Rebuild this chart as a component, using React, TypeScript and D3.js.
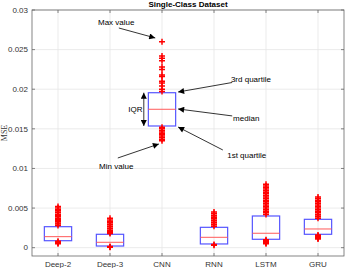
import React, { useEffect, useRef } from "react";
import * as d3 from "d3";

const categories = ["Deep-2", "Deep-3", "CNN", "RNN", "LSTM", "GRU"];
const q1 = [0.00088, 0.00021, 0.01536, 0.00047, 0.00106, 0.00169];
const medians = [0.00139, 0.00068, 0.01747, 0.00131, 0.00182, 0.00236];
const q3 = [0.00265, 0.00169, 0.01956, 0.00257, 0.004, 0.00358];
const outliers = [
  [0.0028, 0.003, 0.0031, 0.0033, 0.0034, 0.0036, 0.0037, 0.0039, 0.0041, 0.0042, 0.0044, 0.0045, 0.0047, 0.0048, 0.005, 0.0052, 0.0008, 0.0007, 0.0006, 0.0005],
  [0.0018, 0.0019, 0.002, 0.0022, 0.0024, 0.0026, 0.0027, 0.0029, 0.003, 0.0032, 0.0033, 0.0035, 0.0037, 0.00015, 0.0001, 0.00005],
  [0.026, 0.0242, 0.0239, 0.0236, 0.0228, 0.0225, 0.0218, 0.0216, 0.021, 0.0208, 0.0204, 0.02, 0.0197, 0.0152, 0.015, 0.0148, 0.0146, 0.0144, 0.0143, 0.0141, 0.0139, 0.0137, 0.0135],
  [0.0027, 0.0029, 0.003, 0.0032, 0.0034, 0.0035, 0.0037, 0.0038, 0.004, 0.0041, 0.0043, 0.0045, 0.0004, 0.0003],
  [0.0042, 0.0044, 0.0046, 0.0048, 0.005, 0.0052, 0.0054, 0.0056, 0.0058, 0.006, 0.0062, 0.0064, 0.0066, 0.0068, 0.007, 0.0072, 0.0074, 0.0076, 0.0078, 0.008, 0.001, 0.0009, 0.0008, 0.0007, 0.0006, 0.0005],
  [0.0037, 0.0039, 0.004, 0.0042, 0.0044, 0.0046, 0.0048, 0.005, 0.0052, 0.0054, 0.0056, 0.0058, 0.006, 0.0062, 0.0064, 0.0016, 0.0015, 0.0014, 0.0013, 0.0012, 0.0011],
];
const yTicks = [0, 0.005, 0.01, 0.015, 0.02, 0.025, 0.03];
const yTickLabels = ["0", "0.005", "0.01", "0.015", "0.02", "0.025", "0.03"];

// annotations in data units: text position, arrow start, arrow end
const notes = [
  { label: "Max value", tx: 2.12, ty: 0.0285, x1: 2.17, y1: 0.02773, x2: 2.87, y2: 0.02647 },
  { label: "3rd quartile", tx: 4.71, ty: 0.0213, x1: 4.35, y1: 0.02085, x2: 3.31, y2: 0.01965 },
  { label: "median", tx: 4.62, ty: 0.01637, x1: 4.35, y1: 0.01663, x2: 3.31, y2: 0.01751 },
  { label: "1st quartile", tx: 4.63, ty: 0.0117, x1: 4.17, y1: 0.01233, x2: 3.31, y2: 0.01523 },
  { label: "Min value", tx: 2.12, ty: 0.01031, x1: 2.15, y1: 0.01132, x2: 2.94, y2: 0.01309 },
];

const App = () => {
  const svgRef = useRef<SVGSVGElement>(null);

  useEffect(() => {
    const W = 345;
    const H = 268;
    const margin = { top: 10, right: 1, bottom: 12, left: 32 };
    const svg = d3.select(svgRef.current).attr("width", W).attr("height", H);
    svg.selectAll("*").remove();

    const x = d3.scaleLinear().domain([0.5, 6.5]).range([margin.left, W - margin.right]);
    const y = d3.scaleLinear().domain([-0.00105, 0.03]).range([H - margin.bottom, margin.top]);
    const font = "Liberation Sans, Arial, sans-serif";

    const defs = svg.append("defs");
    defs
      .append("marker")
      .attr("id", "ah")
      .attr("viewBox", "0 0 10 10")
      .attr("refX", 10)
      .attr("refY", 5)
      .attr("markerWidth", 7)
      .attr("markerHeight", 6)
      .attr("markerUnits", "userSpaceOnUse")
      .attr("orient", "auto-start-reverse")
      .append("path")
      .attr("d", "M0,0L10,5L0,10z")
      .attr("fill", "#000");

    svg.append("rect").attr("width", W).attr("height", H).attr("fill", "#fff");

    // grid
    const g = svg.append("g");
    categories.forEach((_, i) => {
      g.append("line")
        .attr("x1", x(i + 1)).attr("x2", x(i + 1))
        .attr("y1", y.range()[0]).attr("y2", y.range()[1])
        .attr("stroke", "#e6e6e6").attr("stroke-width", 0.8);
    });
    yTicks.forEach((t) => {
      g.append("line")
        .attr("x1", x.range()[0]).attr("x2", x.range()[1])
        .attr("y1", y(t)).attr("y2", y(t))
        .attr("stroke", "#e6e6e6").attr("stroke-width", 0.8);
    });

    // boxes
    categories.forEach((_, i) => {
      const cx = x(i + 1);
      const hw = (x(1.25) - x(1)) * 1.05;
      g.append("rect")
        .attr("x", cx - hw).attr("width", hw * 2)
        .attr("y", y(q3[i])).attr("height", y(q1[i]) - y(q3[i]))
        .attr("fill", "none").attr("stroke", "#5555ff").attr("stroke-width", 1.2);
      g.append("line")
        .attr("x1", cx - hw).attr("x2", cx + hw)
        .attr("y1", y(medians[i])).attr("y2", y(medians[i]))
        .attr("stroke", "#ff5a5a").attr("stroke-width", 1);
      outliers[i].forEach((v) => {
        const py = y(v);
        g.append("path")
          .attr("d", `M${cx - 3},${py}H${cx + 3}M${cx},${py - 3}V${py + 3}`)
          .attr("stroke", "#ff0000").attr("stroke-width", 1.5).attr("fill", "none");
      });
    });

    // axes box
    const [x0, x1] = x.range();
    const [yb, yt] = y.range();
    const ax = svg.append("g").attr("stroke", "#666").attr("stroke-width", 0.8).attr("fill", "none");
    ax.append("rect").attr("x", x0).attr("y", yt).attr("width", x1 - x0).attr("height", yb - yt);
    yTicks.forEach((t) => {
      ax.append("line").attr("x1", x0).attr("x2", x0 + 3).attr("y1", y(t)).attr("y2", y(t));
      ax.append("line").attr("x1", x1).attr("x2", x1 - 3).attr("y1", y(t)).attr("y2", y(t));
    });
    categories.forEach((_, i) => {
      ax.append("line").attr("x1", x(i + 1)).attr("x2", x(i + 1)).attr("y1", yb).attr("y2", yb - 3);
      ax.append("line").attr("x1", x(i + 1)).attr("x2", x(i + 1)).attr("y1", yt).attr("y2", yt + 3);
    });

    const txt = svg.append("g").attr("font-family", font).attr("font-size", 8).attr("fill", "#333");
    yTicks.forEach((t, i) => {
      txt.append("text").attr("x", x0 - 4).attr("y", y(t)).attr("dy", "0.35em")
        .attr("text-anchor", "end").text(yTickLabels[i]);
    });
    categories.forEach((c, i) => {
      txt.append("text").attr("x", x(i + 1)).attr("y", yb + 11)
        .attr("text-anchor", "middle").text(c);
    });
    txt.append("text")
      .attr("transform", `translate(7, ${(yb + yt) / 2}) rotate(-90)`)
      .attr("text-anchor", "middle").attr("font-family", "Liberation Serif, serif").text("MSE");
    txt.append("text").attr("x", (x0 + x1) / 2).attr("y", yt - 3)
      .attr("text-anchor", "middle").attr("font-weight", "bold").attr("fill", "#000")
      .text("Single-Class Dataset");

    // annotations
    const an = svg.append("g").attr("font-family", font).attr("font-size", 8).attr("fill", "#000");
    notes.forEach((n) => {
      an.append("text").attr("x", x(n.tx)).attr("y", y(n.ty)).attr("dy", "0.35em")
        .attr("text-anchor", "middle").text(n.label);
      an.append("line")
        .attr("x1", x(n.x1)).attr("y1", y(n.y1)).attr("x2", x(n.x2)).attr("y2", y(n.y2))
        .attr("stroke", "#000").attr("stroke-width", 0.8).attr("marker-end", "url(#ah)");
    });
    an.append("text").attr("x", x(2.49)).attr("y", y(medians[2])).attr("dy", "0.35em")
      .attr("text-anchor", "middle").text("IQR");
    an.append("line")
      .attr("x1", x(2.65)).attr("x2", x(2.65)).attr("y1", y(q3[2])).attr("y2", y(q1[2]))
      .attr("stroke", "#000").attr("stroke-width", 0.8)
      .attr("marker-start", "url(#ah)").attr("marker-end", "url(#ah)");
  }, []);

  return (
    <div style={{ position: "absolute", left: 0, top: 0 }}>
      <svg ref={svgRef}></svg>
    </div>
  );
};
export default App;
